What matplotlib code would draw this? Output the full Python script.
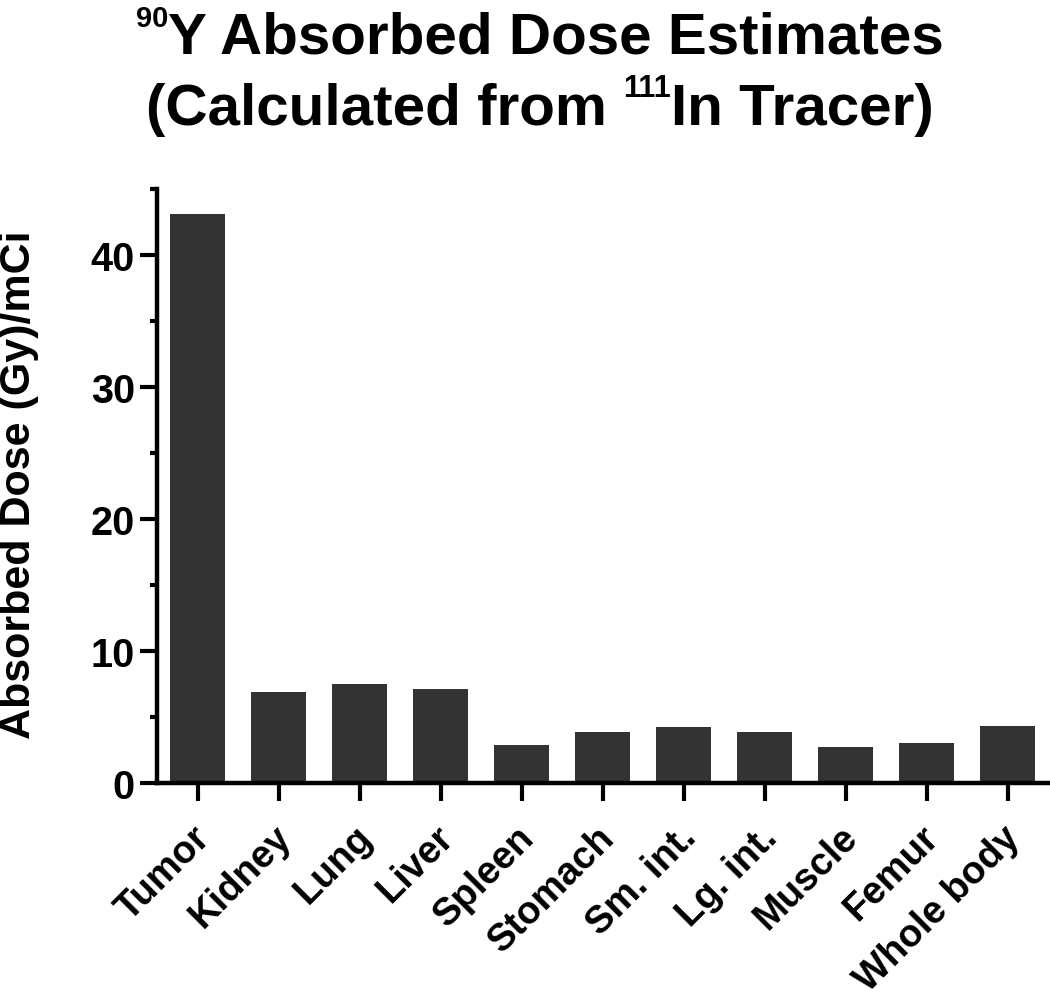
import matplotlib
matplotlib.use("Agg")
import matplotlib.pyplot as plt
import matplotlib.transforms as mtransforms
from matplotlib.ticker import MultipleLocator

categories = ["Tumor", "Kidney", "Lung", "Liver", "Spleen", "Stomach",
              "Sm. int.", "Lg. int.", "Muscle", "Femur", "Whole body"]
dose = [43.1, 6.9, 7.5, 7.1, 2.9, 3.9, 4.25, 3.9, 2.75, 3.0, 4.3]

title_line1 = [("90", True), ("Y Absorbed Dose Estimates", False)]
title_line2 = [("(Calculated from ", False), ("111", True), ("In Tracer)", False)]
ylabel = "Absorbed Dose (Gy)/mCi"

plt.rcParams['font.family'] = ['Liberation Sans', 'DejaVu Sans']
plt.rcParams['font.weight'] = 'bold'

W, H = 1050, 1003
fig = plt.figure(figsize=(W / 100, H / 100), dpi=100)
ax = fig.add_axes([157 / W, 1 - 784 / H, 891 / W, 594 / H])

x = list(range(len(categories)))
ax.bar(x, dose, width=0.68, color='#333333', edgecolor='none')

ax.set_xlim(-0.5, 10.5)
ax.set_ylim(0, 45)
ax.yaxis.set_major_locator(MultipleLocator(10))
ax.yaxis.set_minor_locator(MultipleLocator(5))
ax.set_xticks(x)
ax.set_xticklabels(categories, rotation=45, ha='right', va='center',
                   rotation_mode='anchor', fontsize=27.5, fontweight='bold')
for lab in ax.get_yticklabels():
    lab.set_fontweight('bold')
ax.tick_params(axis='y', which='major', length=12, width=3, labelsize=28.5, pad=4)
ax.tick_params(axis='y', which='minor', length=5, width=3)
ax.tick_params(axis='x', which='major', length=13, width=3, pad=22)

offset = mtransforms.ScaledTranslation(7 / 100, 0, fig.dpi_scale_trans)
for lab in ax.get_xticklabels():
    lab.set_transform(lab.get_transform() + offset)

for s in ['top', 'right']:
    ax.spines[s].set_visible(False)
for s in ['left', 'bottom']:
    ax.spines[s].set_linewidth(3.2)

fig.text(19 / W, 1 - 485 / H, ylabel, rotation=90, ha='center', va='center',
         fontsize=31, fontweight='bold')

renderer = fig.canvas.get_renderer()


def draw_line(pieces, xc, baseline, size, sup_size, sup_rise):
    objs = []
    total = 0.0
    for txt, sup in pieces:
        t = fig.text(0, 0, txt, fontsize=sup_size if sup else size,
                     fontweight='bold', ha='left', va='baseline')
        w = t.get_window_extent(renderer).width
        objs.append((t, w, sup))
        total += w
    xpos = xc - total / 2
    for t, w, sup in objs:
        yb = baseline - sup_rise if sup else baseline
        t.set_position((xpos / W, 1 - yb / H))
        xpos += w


draw_line(title_line1, 540, 53, 42, 21, 26)
draw_line(title_line2, 540, 125, 42, 22, 28)

fig.savefig('out.png', dpi=100)
